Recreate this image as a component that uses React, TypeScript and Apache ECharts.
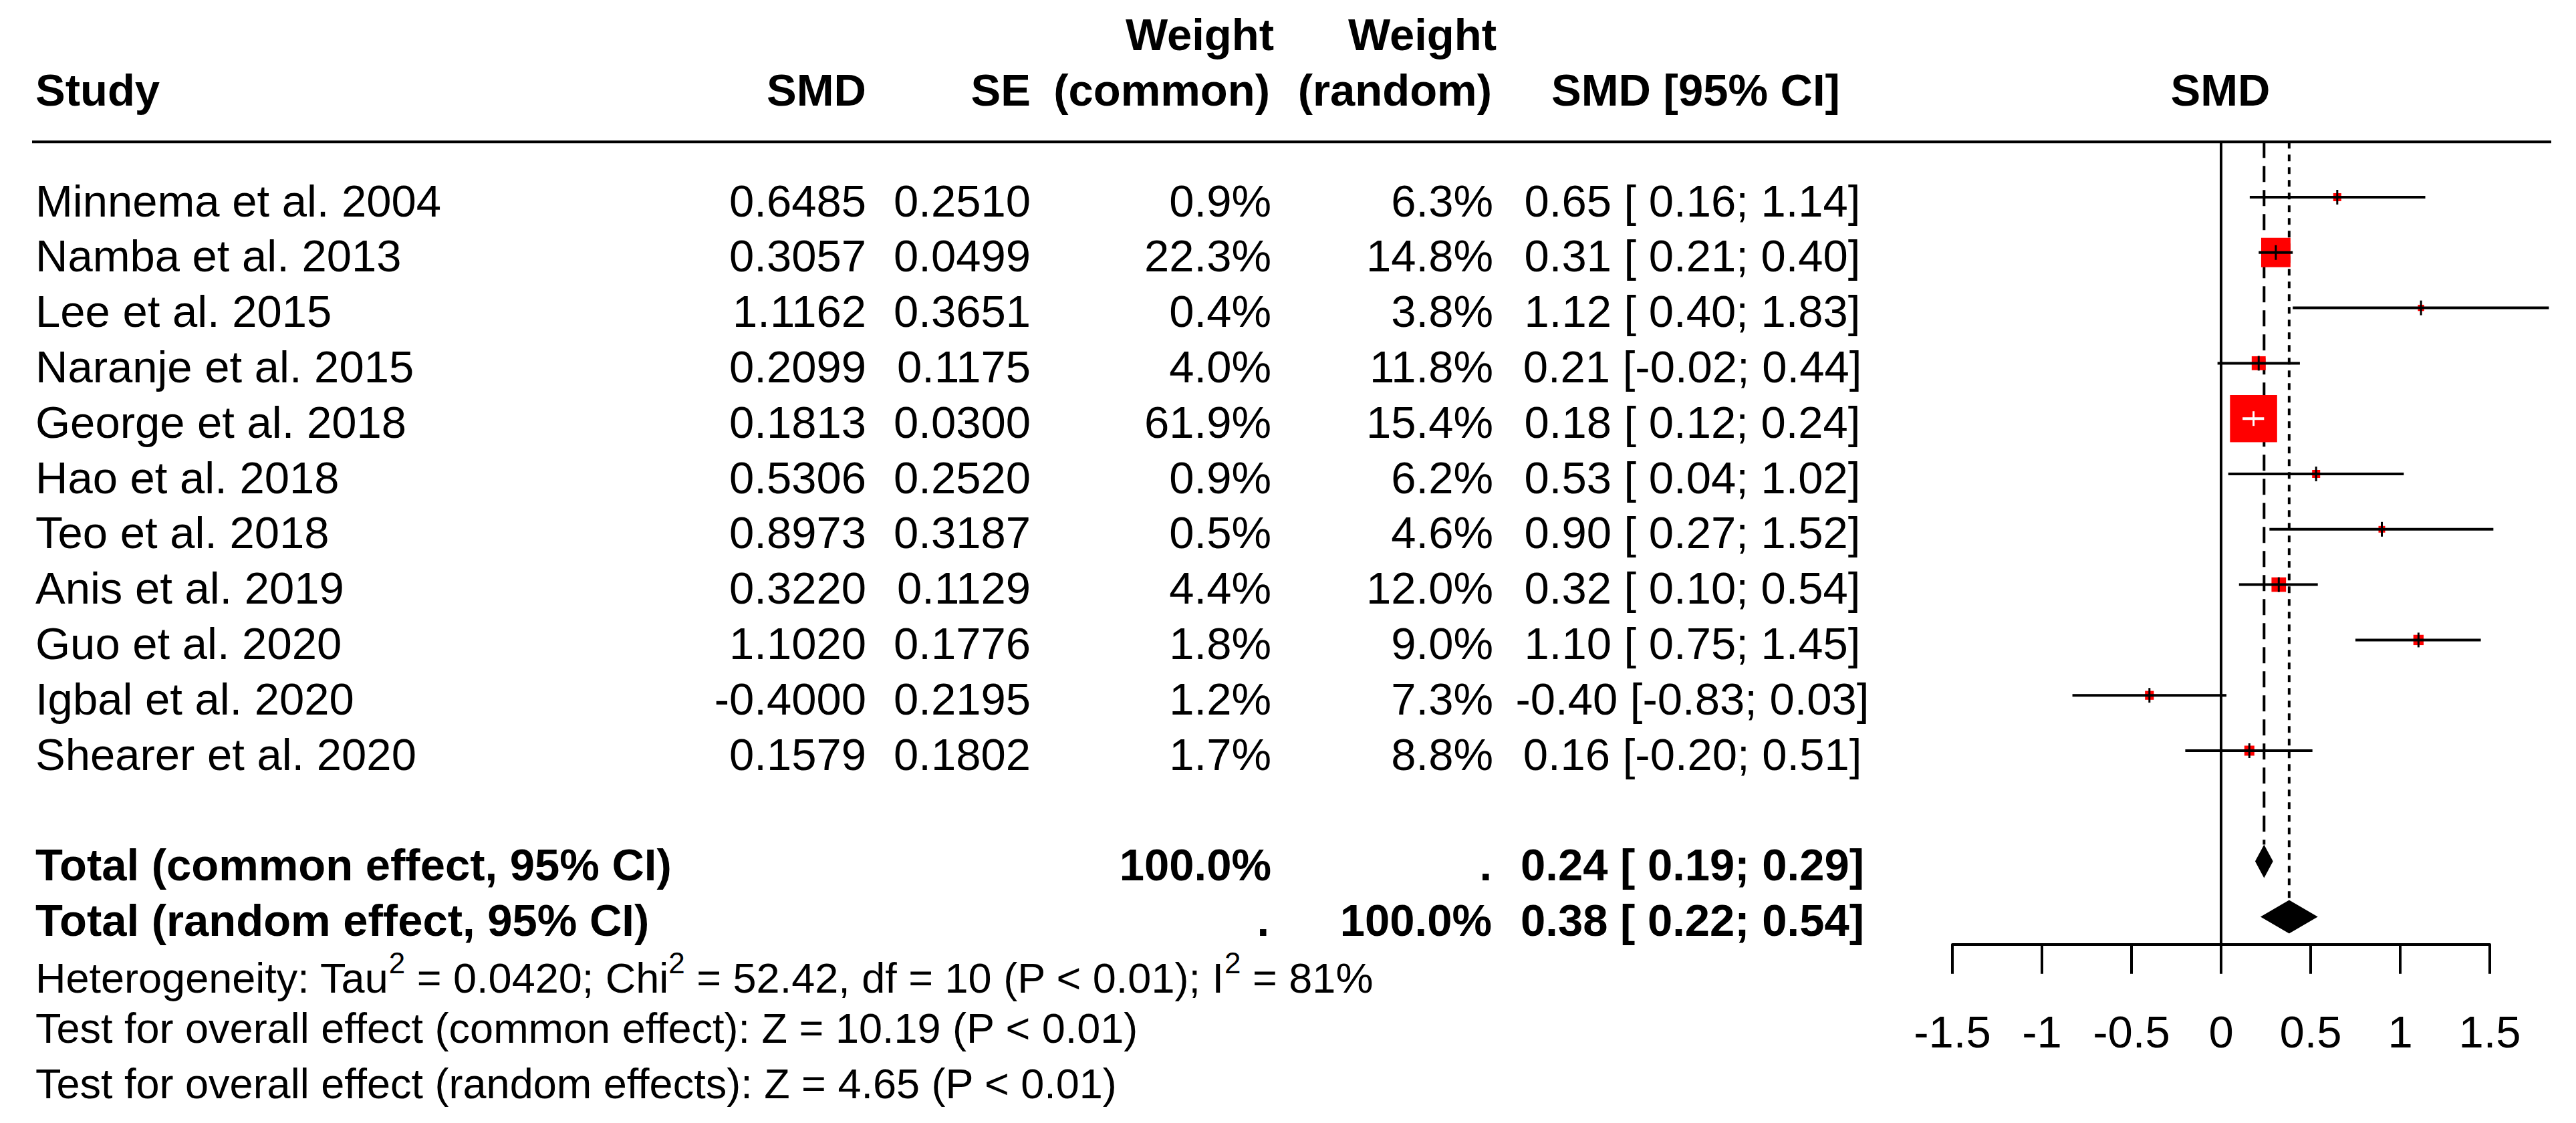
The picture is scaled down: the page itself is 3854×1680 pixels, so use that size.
import React, { useEffect, useRef } from "react";
import * as echarts from "echarts";

// ---------- data ----------
const studies = [
  "Minnema et al. 2004",
  "Namba et al. 2013",
  "Lee et al. 2015",
  "Naranje et al. 2015",
  "George et al. 2018",
  "Hao et al. 2018",
  "Teo et al. 2018",
  "Anis et al. 2019",
  "Guo et al. 2020",
  "Igbal et al. 2020",
  "Shearer et al. 2020",
];
const smd = [0.6485, 0.3057, 1.1162, 0.2099, 0.1813, 0.5306, 0.8973, 0.322, 1.102, -0.4, 0.1579];
const se = [0.251, 0.0499, 0.3651, 0.1175, 0.03, 0.252, 0.3187, 0.1129, 0.1776, 0.2195, 0.1802];
const weightCommon = [0.9, 22.3, 0.4, 4.0, 61.9, 0.9, 0.5, 4.4, 1.8, 1.2, 1.7];
const weightRandom = [6.3, 14.8, 3.8, 11.8, 15.4, 6.2, 4.6, 12.0, 9.0, 7.3, 8.8];
const ciLower = [0.16, 0.21, 0.4, -0.02, 0.12, 0.04, 0.27, 0.1, 0.75, -0.83, -0.2];
const ciUpper = [1.14, 0.4, 1.83, 0.44, 0.24, 1.02, 1.52, 0.54, 1.45, 0.03, 0.51];

const totalLabels = ["Total (common effect, 95% CI)", "Total (random effect, 95% CI)"];
const totalEst = [0.24, 0.38];
const totalLower = [0.19, 0.22];
const totalUpper = [0.29, 0.54];

const xTicks = [-1.5, -1, -0.5, 0, 0.5, 1, 1.5];

const heterogeneity = { tau2: "0.0420", chi2: "52.42", df: 10, p: "P < 0.01", i2: "81%" };
const zCommon = "10.19";
const zRandom = "4.65";

// ---------- layout ----------
const W = 3854;
const H = 1680;
const ROW0 = 295;
const ROW_H = 82.8;
const FOREST_LEFT = 2921;
const FOREST_WIDTH = 804;
const FONT = '"Liberation Sans", Arial, Helvetica, sans-serif';
const FS = 67;
const FS_SMALL = 63;
const TEXT_DY = 5;
const DIAMOND_H = 50;
const COMMON_ROW = studies.length + 1;
const RANDOM_ROW = studies.length + 2;

type Cell = {
  x: number;
  row: number;
  text: string;
  align: "left" | "right" | "center";
  bold?: boolean;
  size?: number;
  rich?: boolean;
};

const fmtCI = (e: number, lo: number, hi: number) =>
  `${e.toFixed(2)} [${lo >= 0 ? " " : ""}${lo.toFixed(2)}; ${hi.toFixed(2)}]`;

const COL = {
  study: 53,
  smd: 1296,
  se: 1542,
  wc: 1902,
  wr: 2234,
  ci: 2532,
};

const cells: Cell[] = [];
cells.push({ x: COL.study, row: -2, text: "Study", align: "left", bold: true });
cells.push({ x: COL.smd, row: -2, text: "SMD", align: "right", bold: true });
cells.push({ x: COL.se, row: -2, text: "SE", align: "right", bold: true });
cells.push({ x: 1906, row: -3, text: "Weight", align: "right", bold: true });
cells.push({ x: 1900, row: -2, text: "(common)", align: "right", bold: true });
cells.push({ x: 2239, row: -3, text: "Weight", align: "right", bold: true });
cells.push({ x: 2232, row: -2, text: "(random)", align: "right", bold: true });
cells.push({ x: 2537, row: -2, text: "SMD [95% CI]", align: "center", bold: true });
cells.push({ x: 3322, row: -2, text: "SMD", align: "center", bold: true });

studies.forEach((s, i) => {
  cells.push({ x: COL.study, row: i, text: s, align: "left" });
  cells.push({ x: COL.smd, row: i, text: smd[i].toFixed(4), align: "right" });
  cells.push({ x: COL.se, row: i, text: se[i].toFixed(4), align: "right" });
  cells.push({ x: COL.wc, row: i, text: weightCommon[i].toFixed(1) + "%", align: "right" });
  cells.push({ x: COL.wr, row: i, text: weightRandom[i].toFixed(1) + "%", align: "right" });
  cells.push({ x: COL.ci, row: i, text: fmtCI(smd[i], ciLower[i], ciUpper[i]), align: "center" });
});

// totals
cells.push({ x: COL.study, row: COMMON_ROW, text: totalLabels[0], align: "left", bold: true });
cells.push({ x: COL.wc, row: COMMON_ROW, text: "100.0%", align: "right", bold: true });
cells.push({ x: 2232, row: COMMON_ROW, text: ".", align: "right", bold: true });
cells.push({ x: COL.ci, row: COMMON_ROW, text: fmtCI(totalEst[0], totalLower[0], totalUpper[0]), align: "center", bold: true });
cells.push({ x: COL.study, row: RANDOM_ROW, text: totalLabels[1], align: "left", bold: true });
cells.push({ x: 1899, row: RANDOM_ROW, text: ".", align: "right", bold: true });
cells.push({ x: 2232, row: RANDOM_ROW, text: "100.0%", align: "right", bold: true });
cells.push({ x: COL.ci, row: RANDOM_ROW, text: fmtCI(totalEst[1], totalLower[1], totalUpper[1]), align: "center", bold: true });

// statistics
cells.push({
  x: COL.study,
  row: 14.05,
  text: `Heterogeneity: Tau{sup|2} = ${heterogeneity.tau2}; Chi{sup|2} = ${heterogeneity.chi2}, df = ${heterogeneity.df} (${heterogeneity.p}); I{sup|2} = ${heterogeneity.i2}`,
  align: "left",
  size: FS_SMALL,
  rich: true,
});
cells.push({
  x: COL.study,
  row: 14.95,
  text: `Test for overall effect (common effect): Z = ${zCommon} (P < 0.01)`,
  align: "left",
  size: FS_SMALL,
});
cells.push({
  x: COL.study,
  row: 15.95,
  text: `Test for overall effect (random effects): Z = ${zRandom} (P < 0.01)`,
  align: "left",
  size: FS_SMALL,
});

const squareSide = (w: number) => 8.45 * Math.sqrt(w) + 4;

function buildOption(): any {
  return {
    animation: false,
    backgroundColor: "#ffffff",
    grid: [
      { left: FOREST_LEFT, width: FOREST_WIDTH, top: ROW0 - ROW_H, height: 14.5 * ROW_H },
      { left: 0, width: W, top: ROW0 - 3.5 * ROW_H, height: 20 * ROW_H },
    ],
    xAxis: [
      {
        type: "value",
        gridIndex: 0,
        min: xTicks[0],
        max: xTicks[xTicks.length - 1],
        interval: 0.5,
        axisLine: { show: true, onZero: false, lineStyle: { color: "#000", width: 4 } },
        axisTick: { show: true, length: 44, lineStyle: { color: "#000", width: 4 } },
        axisLabel: { color: "#000", fontSize: FS, fontFamily: FONT, margin: 97 },
        splitLine: { show: false },
      },
      { type: "value", gridIndex: 1, min: 0, max: W, show: false },
    ],
    yAxis: [
      { type: "value", gridIndex: 0, min: -1, max: 13.5, inverse: true, show: false },
      { type: "value", gridIndex: 1, min: -3.5, max: 16.5, inverse: true, show: false },
    ],
    series: [
      // header rule
      {
        type: "custom",
        xAxisIndex: 1,
        yAxisIndex: 1,
        silent: true,
        data: [[48, -1, 3817]],
        renderItem: (params: any, api: any) => {
          const a = api.coord([api.value(0), api.value(1)]);
          const b = api.coord([api.value(2), api.value(1)]);
          return {
            type: "line",
            shape: { x1: a[0], y1: a[1], x2: b[0], y2: b[1] },
            style: { stroke: "#000", lineWidth: 4 },
          };
        },
      },
      // reference lines: zero, common, random
      {
        type: "custom",
        xAxisIndex: 0,
        yAxisIndex: 0,
        silent: true,
        data: [
          [0, 0],
          [totalEst[0], 1],
          [totalEst[1], 2],
        ],
        renderItem: (params: any, api: any) => {
          const x = api.value(0);
          const kind = api.value(1);
          const top = api.coord([x, -1]);
          let bottomY: number;
          if (kind === 0) bottomY = api.coord([x, 13.5])[1];
          else bottomY = api.coord([x, kind === 1 ? COMMON_ROW : RANDOM_ROW])[1] - DIAMOND_H / 2;
          return {
            type: "line",
            shape: { x1: top[0], y1: top[1], x2: top[0], y2: bottomY },
            style: {
              stroke: "#000",
              lineWidth: 4,
              lineDash: kind === 1 ? [24, 12] : kind === 2 ? [10, 9] : null,
            },
          };
        },
      },
      // studies
      {
        type: "custom",
        xAxisIndex: 0,
        yAxisIndex: 0,
        silent: true,
        data: smd.map((v, i) => [v, i, ciLower[i], ciUpper[i], weightCommon[i]]),
        renderItem: (params: any, api: any) => {
          const c = api.coord([api.value(0), api.value(1)]);
          const lo = api.coord([api.value(2), api.value(1)]);
          const hi = api.coord([api.value(3), api.value(1)]);
          const s = squareSide(api.value(4));
          const inside = hi[0] - lo[0] < s;
          const col = inside ? "#ffffff" : "#000000";
          return {
            type: "group",
            children: [
              {
                type: "rect",
                shape: { x: c[0] - s / 2, y: c[1] - s / 2, width: s, height: s },
                style: { fill: "#ff0000" },
              },
              {
                type: "line",
                shape: { x1: lo[0], y1: c[1], x2: hi[0], y2: c[1] },
                style: { stroke: col, lineWidth: 4 },
              },
              {
                type: "line",
                shape: { x1: c[0], y1: c[1] - 11, x2: c[0], y2: c[1] + 11 },
                style: { stroke: col, lineWidth: 3 },
              },
            ],
          };
        },
      },
      // diamonds
      {
        type: "custom",
        xAxisIndex: 0,
        yAxisIndex: 0,
        silent: true,
        data: totalEst.map((v, i) => [v, i === 0 ? COMMON_ROW : RANDOM_ROW, totalLower[i], totalUpper[i]]),
        renderItem: (params: any, api: any) => {
          const c = api.coord([api.value(0), api.value(1)]);
          const lo = api.coord([api.value(2), api.value(1)]);
          const hi = api.coord([api.value(3), api.value(1)]);
          return {
            type: "polygon",
            shape: {
              points: [
                [lo[0], c[1]],
                [c[0], c[1] - DIAMOND_H / 2],
                [hi[0], c[1]],
                [c[0], c[1] + DIAMOND_H / 2],
              ],
            },
            style: { fill: "#000" },
          };
        },
      },
      // table text
      {
        type: "custom",
        xAxisIndex: 1,
        yAxisIndex: 1,
        silent: true,
        data: cells.map((c) => [c.x, c.row]),
        renderItem: (params: any, api: any) => {
          const cell = cells[params.dataIndex];
          const p = api.coord([api.value(0), api.value(1)]);
          const style: any = {
            text: cell.text,
            fill: "#000",
            fontSize: cell.size || FS,
            fontFamily: FONT,
            fontWeight: cell.bold ? "bold" : "normal",
            align: cell.align,
            verticalAlign: "middle",
          };
          if (cell.rich) {
            style.lineHeight = 90;
            style.rich = {
              sup: {
                fontSize: 44,
                lineHeight: 44,
                verticalAlign: "top",
                fontFamily: FONT,
                fill: "#000",
              },
            };
          }
          return { type: "text", x: p[0], y: p[1] + TEXT_DY, style };
        },
      },
    ],
  };
}

export default function App() {
  const ref = useRef<HTMLDivElement>(null);
  useEffect(() => {
    if (!ref.current) return;
    const chart = echarts.init(ref.current, null, { renderer: "svg" });
    chart.setOption(buildOption());
    return () => chart.dispose();
  }, []);
  return (
    <div
      ref={ref}
      style={{ position: "fixed", left: 0, top: 0, width: W, height: H, background: "#ffffff" }}
    />
  );
}
